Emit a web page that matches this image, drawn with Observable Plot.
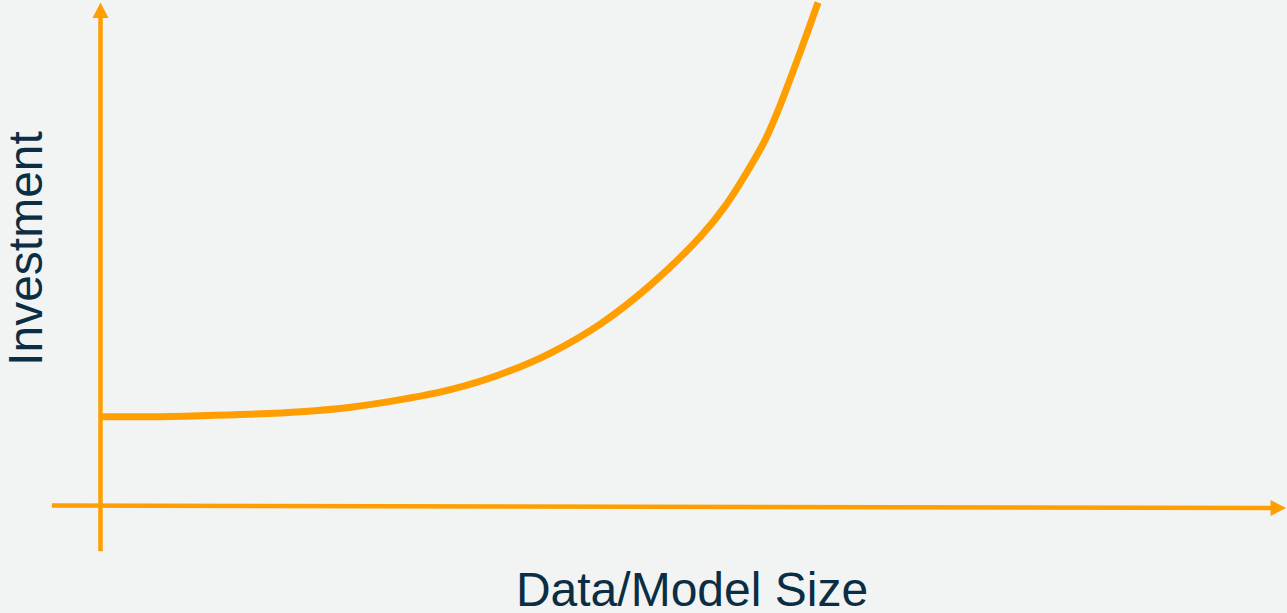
<!DOCTYPE html>
<html>
<head>
<meta charset="utf-8">
<script src="https://cdn.jsdelivr.net/npm/d3@7"></script>
<script src="https://cdn.jsdelivr.net/npm/@observablehq/plot@0.6"></script>
<style>
  html, body { margin: 0; padding: 0; background: #f2f4f3; overflow: hidden; }
  #chart svg { display: block; }
</style>
</head>
<body>
<div id="chart"></div>
<script>
// Curve: investment vs data/model size
const sizeValues = [0, 4.2, 8.4, 12.6, 16.9, 21.1, 25.3, 29.5, 33.7, 37.9, 42.2, 46.4, 50.6, 52.7, 55.0, 56.1, 57.1, 58.1, 59.3, 60.5];
const investmentValues = [17.8, 17.8, 18.0, 18.3, 18.8, 19.7, 21.2, 23.2, 26.2, 30.4, 36.3, 44.0, 53.6, 59.7, 68.3, 73.0, 78.4, 84.5, 92.1, 100];

// Axis lines (start and end of each arrow shaft)
const xAxisX = [-4.1, 98.7];
const xAxisY = [0.2, -0.3];
const yAxisX = [0, 0];
const yAxisY = [-8.9, 97.0];

const xLabel = "Data/Model Size";
const yLabel = "Investment";

const orange = "#ff9e00";
const ink = "#0b2e45";

const curve = sizeValues.map((x, i) => ({x, y: investmentValues[i]}));
const xAxisLine = xAxisX.map((x, i) => ({x, y: xAxisY[i]}));
const yAxisLine = yAxisX.map((x, i) => ({x, y: yAxisY[i]}));

function arrowHead(color) {
  const m = d3.create("svg:marker")
    .attr("viewBox", "0 -8 16 16")
    .attr("markerWidth", 16)
    .attr("markerHeight", 16)
    .attr("markerUnits", "userSpaceOnUse")
    .attr("refX", 0.5)
    .attr("refY", 0)
    .attr("orient", "auto")
    .attr("overflow", "visible");
  m.append("path")
    .attr("d", "M0,-8L15.5,0L0,8Z")
    .attr("fill", color)
    .attr("stroke", "none");
  return m.node();
}

const plot = Plot.plot({
  width: 1287,
  height: 613,
  marginLeft: 100,
  marginRight: 1,
  marginTop: 2,
  marginBottom: 107,
  style: {background: "#f2f4f3", fontFamily: "'Liberation Sans', Arial, sans-serif", overflow: "visible"},
  x: {domain: [0, 100], axis: null},
  y: {domain: [0, 100], axis: null},
  marks: [
    Plot.line(xAxisLine, {x: "x", y: "y", stroke: orange, strokeWidth: 4.5, strokeLinecap: "butt", markerEnd: arrowHead}),
    Plot.line(yAxisLine, {x: "x", y: "y", stroke: orange, strokeWidth: 4.5, strokeLinecap: "butt", markerEnd: arrowHead}),
    Plot.line(curve, {x: "x", y: "y", stroke: orange, strokeWidth: 7, strokeLinecap: "butt", curve: "catmull-rom"}),
    Plot.text([xLabel], {frameAnchor: "bottom", text: d => d, dy: 99, dx: -1.5, textAnchor: "middle", lineAnchor: "bottom", fontSize: 48, fill: ink}),
    Plot.text([yLabel], {frameAnchor: "left", text: d => d, dx: -59, dy: -6, rotate: -90, textAnchor: "middle", lineAnchor: "bottom", fontSize: 48, fill: ink})
  ]
});
document.getElementById("chart").appendChild(plot);
</script>
</body>
</html>
